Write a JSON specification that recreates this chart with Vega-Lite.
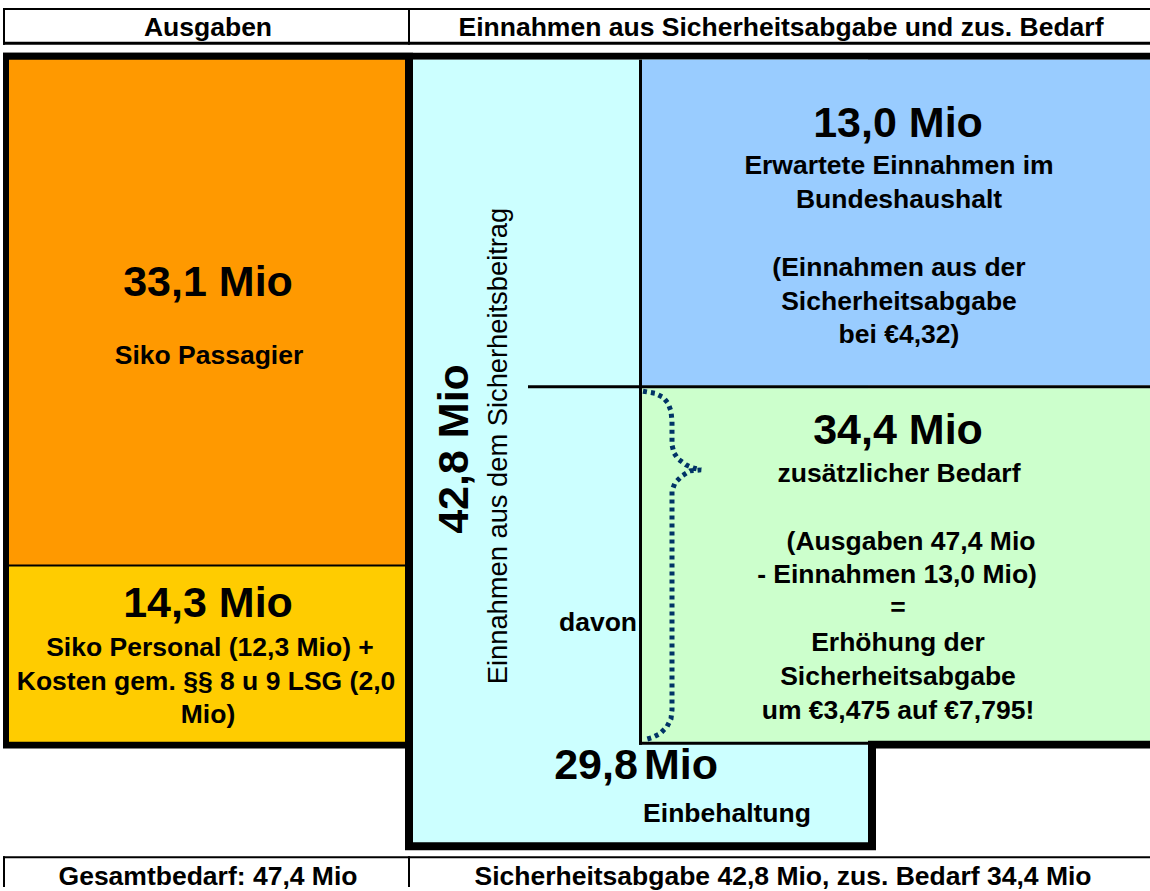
{
  "$schema": "https://vega.github.io/schema/vega-lite/v6.json",
  "width": 1150,
  "height": 891,
  "autosize": {"type": "fit", "contains": "padding"},
  "padding": 0,
  "background": "white",
  "config": {"view": {"stroke": null}},
  "datasets": {
    "rects": [
      {"x": 3, "x2": 1150, "y": 8, "y2": 10, "fill": "#000000"},
      {"x": 3, "x2": 1150, "y": 42, "y2": 45, "fill": "#000000"},
      {"x": 3, "x2": 5, "y": 8, "y2": 45, "fill": "#000000"},
      {"x": 408, "x2": 410, "y": 8, "y2": 45, "fill": "#000000"},
      {"x": 3, "x2": 1150, "y": 53, "y2": 60, "fill": "#000000"},
      {"x": 3, "x2": 413, "y": 53, "y2": 752, "fill": "#000000"},
      {"x": 9, "x2": 405, "y": 60, "y2": 567, "fill": "#FF9900"},
      {"x": 9, "x2": 405, "y": 569, "y2": 745, "fill": "#FFCC00"},
      {"x": 405, "x2": 876, "y": 745, "y2": 854, "fill": "#000000"},
      {"x": 413, "x2": 868, "y": 60, "y2": 846, "fill": "#CCFFFF"},
      {"x": 642, "x2": 1150, "y": 60, "y2": 387, "fill": "#99CCFF"},
      {"x": 642, "x2": 1150, "y": 390, "y2": 745, "fill": "#CCFFCC"},
      {"x": 639, "x2": 642, "y": 60, "y2": 748, "fill": "#000000"},
      {"x": 528, "x2": 1150, "y": 387, "y2": 390, "fill": "#000000"},
      {"x": 639, "x2": 1150, "y": 745, "y2": 748, "fill": "#000000"},
      {"x": 868, "x2": 1150, "y": 744, "y2": 752, "fill": "#000000"},
      {"x": 3, "x2": 1150, "y": 860, "y2": 862, "fill": "#000000"},
      {"x": 3, "x2": 5, "y": 860, "y2": 891, "fill": "#000000"},
      {"x": 408, "x2": 410, "y": 860, "y2": 891, "fill": "#000000"}
    ],
    "brace": [
      {"i": 1, "x": 643, "y": 393},
      {"i": 2, "x": 655, "y": 395},
      {"i": 3, "x": 663, "y": 399},
      {"i": 4, "x": 668, "y": 405},
      {"i": 5, "x": 671, "y": 413},
      {"i": 6, "x": 672, "y": 423},
      {"i": 7, "x": 672, "y": 447},
      {"i": 8, "x": 674, "y": 455},
      {"i": 9, "x": 678, "y": 461},
      {"i": 10, "x": 686, "y": 467},
      {"i": 11, "x": 693, "y": 470},
      {"i": 12, "x": 701, "y": 472},
      {"i": 13, "x": 690, "y": 473},
      {"i": 14, "x": 682, "y": 478},
      {"i": 15, "x": 675, "y": 485},
      {"i": 16, "x": 672, "y": 493},
      {"i": 17, "x": 672, "y": 713},
      {"i": 18, "x": 671, "y": 722},
      {"i": 19, "x": 667, "y": 730},
      {"i": 20, "x": 660, "y": 737},
      {"i": 21, "x": 652, "y": 741},
      {"i": 22, "x": 645, "y": 743}
    ],
    "boldText": [
      {"t": "Ausgaben", "x": 208, "y": 36, "s": 26.5},
      {"t": "Einnahmen aus Sicherheitsabgabe und zus. Bedarf", "x": 781, "y": 36, "s": 26.5},
      {"t": "33,1 Mio", "x": 208, "y": 297, "s": 43},
      {"t": "Siko Passagier", "x": 209, "y": 366, "s": 26.5},
      {"t": "14,3 Mio", "x": 208, "y": 620, "s": 43},
      {"t": "Siko Personal (12,3 Mio) +", "x": 210, "y": 659, "s": 26.5},
      {"t": "Kosten gem. §§ 8 u 9 LSG (2,0", "x": 206, "y": 693, "s": 26.5},
      {"t": "Mio)", "x": 208, "y": 726, "s": 26.5},
      {"t": "13,0 Mio", "x": 898, "y": 138, "s": 43},
      {"t": "Erwartete Einnahmen im", "x": 899, "y": 175, "s": 26.5},
      {"t": "Bundeshaushalt", "x": 899, "y": 209, "s": 26.5},
      {"t": "(Einnahmen aus der", "x": 899, "y": 277, "s": 26.5},
      {"t": "Sicherheitsabgabe", "x": 899, "y": 311, "s": 26.5},
      {"t": "bei €4,32)", "x": 899, "y": 345, "s": 26.5},
      {"t": "34,4 Mio", "x": 898, "y": 446, "s": 43},
      {"t": "zusätzlicher Bedarf", "x": 899, "y": 484, "s": 26.5},
      {"t": "(Ausgaben 47,4 Mio", "x": 911, "y": 552, "s": 26.5},
      {"t": "- Einnahmen 13,0 Mio)", "x": 897, "y": 586, "s": 26.5},
      {"t": "=", "x": 898, "y": 619, "s": 26.5},
      {"t": "Erhöhung der", "x": 898, "y": 654, "s": 26.5},
      {"t": "Sicherheitsabgabe", "x": 898, "y": 688, "s": 26.5},
      {"t": "um €3,475 auf €7,795!", "x": 898, "y": 722, "s": 26.5},
      {"t": "davon", "x": 598, "y": 634, "s": 26.5},
      {"t": "29,8", "x": 596, "y": 783, "s": 43},
      {"t": "Mio", "x": 681, "y": 783, "s": 43},
      {"t": "Einbehaltung", "x": 727, "y": 826, "s": 26.5},
      {"t": "Gesamtbedarf: 47,4 Mio", "x": 208, "y": 889, "s": 26.5},
      {"t": "Sicherheitsabgabe 42,8 Mio, zus. Bedarf 34,4 Mio", "x": 783, "y": 889, "s": 26.5}
    ],
    "rotBold": [
      {"t": "42,8 Mio", "x": 455, "y": 451, "s": 43}
    ],
    "rotNormal": [
      {"t": "Einnahmen aus dem Sicherheitsbeitrag", "x": 499, "y": 448, "s": 27.3}
    ]
  },
  "layer": [
    {
      "data": {"name": "rects"},
      "mark": {"type": "rect", "strokeWidth": 0},
      "encoding": {
        "x": {"field": "x", "type": "quantitative", "scale": {"domain": [0, 1150], "nice": false, "zero": false}, "axis": null},
        "x2": {"field": "x2"},
        "y": {"field": "y", "type": "quantitative", "scale": {"domain": [0, 891], "nice": false, "zero": false, "reverse": true}, "axis": null},
        "y2": {"field": "y2"},
        "color": {"field": "fill", "type": "nominal", "scale": null, "legend": null}
      }
    },
    {
      "data": {"name": "brace"},
      "mark": {"type": "line", "color": "#003366", "strokeWidth": 5, "strokeDash": [4, 4], "interpolate": "linear"},
      "encoding": {
        "x": {"field": "x", "type": "quantitative"},
        "y": {"field": "y", "type": "quantitative"},
        "order": {"field": "i", "type": "quantitative"}
      }
    },
    {
      "data": {"name": "boldText"},
      "mark": {"type": "text", "font": "Liberation Sans", "fontWeight": "bold", "align": "center", "baseline": "alphabetic", "color": "#000000"},
      "encoding": {
        "x": {"field": "x", "type": "quantitative"},
        "y": {"field": "y", "type": "quantitative"},
        "text": {"field": "t"},
        "size": {"field": "s", "type": "quantitative", "scale": null}
      }
    },
    {
      "data": {"name": "rotBold"},
      "mark": {"type": "text", "font": "Liberation Sans", "fontWeight": "bold", "align": "center", "baseline": "middle", "angle": 270, "color": "#000000"},
      "encoding": {
        "x": {"field": "x", "type": "quantitative"},
        "y": {"field": "y", "type": "quantitative"},
        "text": {"field": "t"},
        "size": {"field": "s", "type": "quantitative", "scale": null}
      }
    },
    {
      "data": {"name": "rotNormal"},
      "mark": {"type": "text", "font": "Liberation Sans", "fontWeight": "normal", "align": "center", "baseline": "middle", "angle": 270, "color": "#000000"},
      "encoding": {
        "x": {"field": "x", "type": "quantitative"},
        "y": {"field": "y", "type": "quantitative"},
        "text": {"field": "t"},
        "size": {"field": "s", "type": "quantitative", "scale": null}
      }
    }
  ]
}
